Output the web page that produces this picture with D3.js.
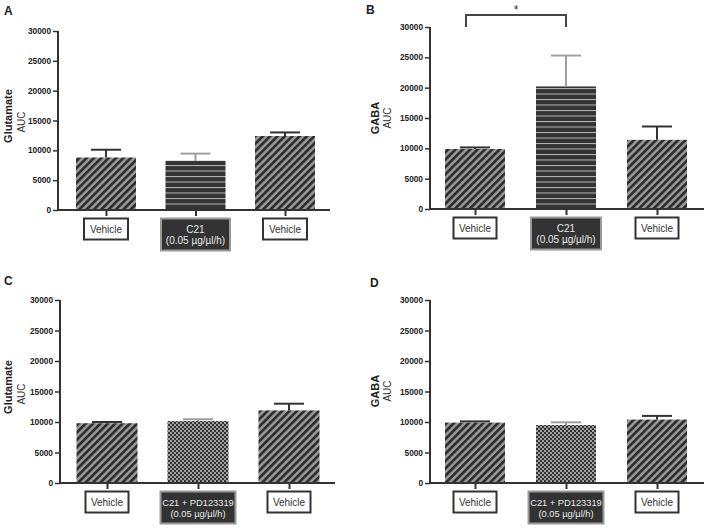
<!DOCTYPE html>
<html><head><meta charset="utf-8">
<script src="https://cdn.jsdelivr.net/npm/d3@7"></script>
<style>
html,body{margin:0;padding:0;background:#fff;}
svg{display:block;font-family:"Liberation Sans",Arial,sans-serif;}
</style></head>
<body><svg id="chart" width="708" height="529"></svg>
<script>
// ---------- data ----------
const categoryKeys = ["vehicle1", "treatment", "vehicle2"];
const yTickValues = [0, 5000, 10000, 15000, 20000, 25000, 30000];
const labelsAB = [["Vehicle"], ["C21", "(0.05 µg/µl/h)"], ["Vehicle"]];
const labelsCD = [["Vehicle"], ["C21 + PD123319", "(0.05 µg/µl/h)"], ["Vehicle"]];
const patternsAB = ["diag", "hstripe", "diag"];
const patternsCD = ["diag", "checker", "diag"];

const glutamateA = [8800, 8250, 12400];
const glutamateAErr = [1300, 1200, 600];
const gabaB = [9900, 20200, 11400];
const gabaBErr = [250, 5100, 2200];
const glutamateC = [9800, 10150, 11900];
const glutamateCErr = [200, 300, 1100];
const gabaD = [9900, 9500, 10400];
const gabaDErr = [200, 450, 600];

// ---------- layout ----------
const panels = [
  {letter:"A", lx:4, ly:15, name:"Glutamate", ax:58, top:31, bottom:210, right:330, c0:106, c2:285, bw:60, vals:glutamateA, errs:glutamateAErr, labels:labelsAB, pats:patternsAB, nameX:12, nameY:116, aucX:25, aucY:122, boxW:[44,69,44], fs:10},
  {letter:"B", lx:366, ly:14, name:"GABA", ax:430, top:27, bottom:209, right:704, c0:475, c2:657, bw:60, vals:gabaB, errs:gabaBErr, labels:labelsAB, pats:patternsAB, nameX:379, nameY:118, aucX:391, aucY:118, boxW:[43,70,43], fs:10},
  {letter:"C", lx:4, ly:285, name:"Glutamate", ax:60, top:300, bottom:483, right:335, c0:107, c2:289, bw:61, vals:glutamateC, errs:glutamateCErr, labels:labelsCD, pats:patternsCD, nameX:12, nameY:387, aucX:25, aucY:394, boxW:[43,75,43], fs:9.3},
  {letter:"D", lx:370, ly:287, name:"GABA", ax:430, top:300, bottom:483, right:704, c0:475, c2:657, bw:60, vals:gabaD, errs:gabaDErr, labels:labelsCD, pats:patternsCD, nameX:379, nameY:391, aucX:391, aucY:391, boxW:[43,75,43], fs:9.3}
];

const DARK = "#2e2e2e", GRAY = "#9a9a9a";
const svg = d3.select("#chart");
const defs = svg.append("defs");

// diagonal stripes
const pd = defs.append("pattern").attr("id","diag").attr("patternUnits","userSpaceOnUse")
  .attr("width",5.2).attr("height",5.2).attr("patternTransform","rotate(45)");
pd.append("rect").attr("width",5.2).attr("height",5.2).attr("fill",GRAY);
pd.append("rect").attr("width",2.7).attr("height",5.2).attr("fill",DARK);
// horizontal stripes
const ph = defs.append("pattern").attr("id","hstripe").attr("patternUnits","userSpaceOnUse")
  .attr("width",10).attr("height",5.5);
ph.append("rect").attr("width",10).attr("height",5.5).attr("fill","#333");
ph.append("rect").attr("y",0).attr("width",10).attr("height",1).attr("fill","#b8b8b8");
// checker
const pc = defs.append("pattern").attr("id","checker").attr("patternUnits","userSpaceOnUse")
  .attr("width",4).attr("height",4);
pc.append("rect").attr("width",4).attr("height",4).attr("fill","#a0a0a0");
pc.append("rect").attr("width",2).attr("height",2).attr("fill","#333");
pc.append("rect").attr("x",2).attr("y",2).attr("width",2).attr("height",2).attr("fill","#333");

panels.forEach(p => {
  const g = svg.append("g");
  const y = d3.scaleLinear().domain([0, 30000]).range([p.bottom, p.top]);
  const x = d3.scalePoint().domain(categoryKeys).range([p.c0, p.c2]);

  // panel letter
  g.append("text").attr("x", p.lx).attr("y", p.ly).attr("font-size", 12).attr("font-weight", "bold")
    .attr("fill", "#222").text(p.letter);

  // y axis label
  g.append("text").attr("transform", `translate(${p.nameX},${p.nameY}) rotate(-90)`)
    .attr("text-anchor", "middle").attr("font-size", 11).attr("font-weight", "bold").attr("fill", "#222").text(p.name);
  g.append("text").attr("transform", `translate(${p.aucX},${p.aucY}) rotate(-90)`)
    .attr("text-anchor", "middle").attr("font-size", 10).attr("fill", "#333").text("AUC");

  // bars
  categoryKeys.forEach((k, i) => {
    const cx = x(k);
    g.append("rect").attr("x", cx - p.bw/2).attr("y", y(p.vals[i]))
      .attr("width", p.bw).attr("height", y(0) - y(p.vals[i]))
      .attr("fill", `url(#${p.pats[i]})`);
    const ec = i === 1 ? "#a0a0a0" : "#333";
    const top = y(p.vals[i] + p.errs[i]);
    g.append("line").attr("x1", cx).attr("x2", cx).attr("y1", y(p.vals[i])).attr("y2", top)
      .attr("stroke", ec).attr("stroke-width", 2);
    g.append("line").attr("x1", cx - 15).attr("x2", cx + 15).attr("y1", top).attr("y2", top)
      .attr("stroke", ec).attr("stroke-width", 2);
  });

  // y axis
  const yAxis = d3.axisLeft(y).tickValues(yTickValues).tickSize(5).tickPadding(2).tickFormat(d3.format("d"));
  const ya = g.append("g").attr("transform", `translate(${p.ax},0)`).call(yAxis);
  ya.select(".domain").attr("stroke", "#333").attr("stroke-width", 2).attr("d", `M0,${p.top}V${p.bottom}`);
  ya.selectAll(".tick line").attr("stroke", "#333").attr("stroke-width", 1.5);
  ya.selectAll(".tick text").attr("font-size", 8.3).attr("font-weight", "bold").attr("fill", "#222")
    .attr("font-family", "Liberation Sans, Arial, sans-serif");

  // x axis
  const xAxis = d3.axisBottom(x).tickSize(6).tickFormat("");
  const xa = g.append("g").attr("transform", `translate(0,${p.bottom})`).call(xAxis);
  xa.select(".domain").attr("stroke", "#333").attr("stroke-width", 2).attr("d", `M${p.ax},0H${p.right}`);
  xa.selectAll(".tick line").attr("stroke", "#333").attr("stroke-width", 2);

  // label boxes
  categoryKeys.forEach((k, i) => {
    const cx = x(k);
    const lines = p.labels[i];
    const w = p.boxW[i];
    const h = lines.length > 1 ? 32 : 21;
    const by = p.bottom + 8.5;
    const dark = lines.length > 1;
    g.append("rect").attr("x", cx - w/2).attr("y", by).attr("width", w).attr("height", h)
      .attr("fill", dark ? "#333" : "#fff").attr("stroke", dark ? "#9a9a9a" : "#333").attr("stroke-width", 2);
    lines.forEach((t, j) => {
      g.append("text").attr("x", cx).attr("y", by + 14 + j * 11.5).attr("text-anchor", "middle")
        .attr("font-size", dark ? p.fs : 10).attr("fill", dark ? "#e8e8e8" : "#333").text(t);
    });
  });

  // significance bracket in panel B
  if (p.letter === "B") {
    const xl = x(categoryKeys[0]) - 9, xr = x(categoryKeys[1]);
    const yb = 15, ye = 27;
    g.append("path").attr("d", `M${xl},${ye}V${yb}H${xr}V${ye}`)
      .attr("fill", "none").attr("stroke", "#444").attr("stroke-width", 2);
    g.append("text").attr("x", (xl + xr) / 2).attr("y", 14).attr("text-anchor", "middle")
      .attr("font-size", 12).attr("fill", "#333").text("*");
  }
});
</script>
</body></html>
